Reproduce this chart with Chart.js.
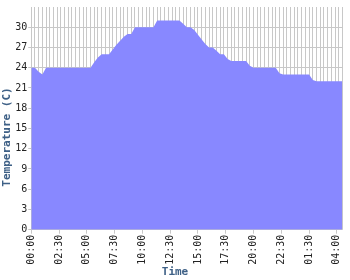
<!DOCTYPE html>
<html>
<head>
<meta charset="utf-8">
<script src="https://cdn.jsdelivr.net/npm/chart.js@4"></script>
<style>
  body { margin: 0; background: #fff; }
  canvas { display: block; }
</style>
</head>
<body>
<canvas id="myChart" width="350" height="280"></canvas>
<script>
// temperature readings, one every ~20 min
const temps = [
  24, 24, 23.4, 23, 24, 24, 24, 24, 24, 24,
  24, 24, 24, 24, 24, 24, 24, 24.8, 25.5, 26,
  26, 26, 26.7, 27.4, 28, 28.6, 29, 29, 30, 30,
  30, 30, 30, 30, 31, 31, 31, 31, 31, 31,
  31, 30.5, 30, 30, 29.6, 28.9, 28.2, 27.5, 27, 27,
  26.5, 26, 26, 25.3, 25, 25, 25, 25, 25, 24.3,
  24, 24, 24, 24, 24, 24, 24, 23.2, 23, 23,
  23, 23, 23, 23, 23, 23, 22.2, 22, 22, 22,
  22, 22, 22, 22, 22
];
const tickLabels = ["00:00", "02:30", "05:00", "07:30", "10:00", "12:30",
  "15:00", "17:30", "20:00", "22:30", "01:30", "04:00"];
const labelStep = 7.5;

const gridGray = "#c8c8c8";
const titleBlue = "#3e6086";
const mono = "'DejaVu Sans Mono', monospace";

const ctx = document.getElementById("myChart").getContext("2d");
const myChart = new Chart(ctx, {
  type: "line",
  data: {
    datasets: [
      {
        label: "Temperature",
        data: temps.map((v, i) => ({ x: i, y: v })),
        backgroundColor: "#8888ff",
        borderWidth: 0,
        pointRadius: 0,
        fill: "origin",
        tension: 0,
        xAxisID: "x",
      },
    ],
  },
  options: {
    responsive: false,
    animation: false,
    devicePixelRatio: 1,
    layout: { padding: { left: 0, right: 0, top: -6, bottom: 0 } },
    plugins: {
      legend: { display: false },
      tooltip: { enabled: false },
      title: {
        display: true,
        text: "Time",
        position: "bottom",
        color: titleBlue,
        font: { family: mono, size: 11, weight: "bold" },
        padding: { top: 0, bottom: 1 },
      },
      subtitle: {
        display: true,
        text: "Temperature (C)",
        position: "left",
        color: titleBlue,
        font: { family: mono, size: 11, weight: "bold" },
        padding: { top: 1, bottom: 0 },
      },
    },
    scales: {
      // vertical grid at every reading
      x: {
        type: "linear",
        position: "top",
        min: 0,
        max: temps.length - 1,
        ticks: { display: false, stepSize: 1 },
        grid: { color: gridGray, drawTicks: false },
        border: { display: false },
      },
      // time labels
      xl: {
        type: "linear",
        position: "bottom",
        min: 0,
        max: temps.length - 1,
        afterBuildTicks: (s) => {
          s.ticks = tickLabels.map((_, k) => ({ value: k * labelStep }));
        },
        ticks: {
          autoSkip: false,
          minRotation: 90,
          maxRotation: 90,
          padding: 1,
          color: "#222",
          font: { family: mono, size: 10 },
          callback: (v, idx) => tickLabels[idx],
        },
        grid: { drawOnChartArea: false, color: gridGray, tickLength: 4 },
        border: { display: false },
      },
      y: {
        min: 0,
        max: 33,
        afterBuildTicks: (s) => {
          s.ticks = s.ticks.filter((t) => t.value <= 30);
        },
        ticks: {
          stepSize: 3,
          padding: 1,
          color: "#222",
          font: { family: mono, size: 10 },
        },
        grid: { color: gridGray, tickLength: 3 },
        border: { display: false },
      },
    },
  },
});
</script>
</body>
</html>
